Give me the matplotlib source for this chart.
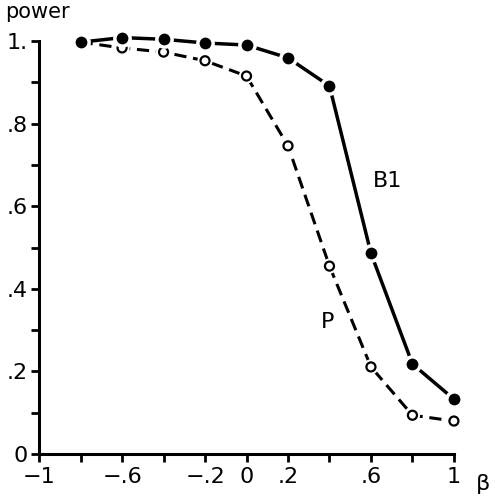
import matplotlib
matplotlib.use("Agg")
import matplotlib.pyplot as plt
import matplotlib.patheffects as pe

beta = [-0.8, -0.6, -0.4, -0.2, 0.0, 0.2, 0.4, 0.6, 0.8, 1.0]
power_B1 = [0.997, 1.008, 1.004, 0.995, 0.990, 0.959, 0.891, 0.486, 0.218, 0.133]
power_P = [0.997, 0.983, 0.973, 0.952, 0.915, 0.746, 0.455, 0.211, 0.094, 0.080]

xticks_major = [-1, -0.8, -0.6, -0.4, -0.2, 0, 0.2, 0.4, 0.6, 0.8, 1]
xtick_labels = ["\u22121", "", "\u2212.6", "", "\u2212.2", "0", ".2", "", ".6", "", "1"]
yticks_major = [0, 0.2, 0.4, 0.6, 0.8, 1.0]
ytick_labels = ["0", ".2", ".4", ".6", ".8", "1."]
yticks_minor = [0.1, 0.3, 0.5, 0.7, 0.9]

plt.rcParams['font.family'] = ['DejaVu Sans']
fig = plt.figure(figsize=(4.95, 4.99), dpi=100)
ax = fig.add_axes([0.079, 0.090, 0.838, 0.828])

ax.plot(beta, power_P, color='black', lw=2.2, ls=(0, (4.0, 2.2)), clip_on=False, zorder=2)
ax.plot(beta, power_P, ls='none', marker='o', ms=6.5, mfc='white', mec='black', mew=1.6,
        clip_on=False, zorder=3,
        path_effects=[pe.Stroke(linewidth=4.5, foreground='white'), pe.Normal()])
ax.plot(beta, power_B1, color='black', lw=2.5, ls='-', clip_on=False, zorder=4)
ax.plot(beta, power_B1, ls='none', marker='o', ms=11, mfc='black', mec='white', mew=2.5,
        clip_on=False, zorder=5)

ax.set_xlim(-1, 1)
ax.set_ylim(0, 1)
ax.set_xticks(xticks_major)
ax.set_xticklabels(xtick_labels, fontsize=16)
ax.set_yticks(yticks_major)
ax.set_yticklabels(ytick_labels, fontsize=16)
ax.set_yticks(yticks_minor, minor=True)
ax.tick_params(which='both', direction='out', length=6, width=2, pad=3)
ax.tick_params(axis='y', which='both', pad=2)
for s in ['top', 'right']:
    ax.spines[s].set_visible(False)
for s in ['left', 'bottom']:
    ax.spines[s].set_linewidth(2.2)

ax.text(0.68, 0.66, "B1", fontsize=16, ha='center', va='center')
ax.text(0.39, 0.32, "P", fontsize=16, ha='center', va='center')
fig.text(0.01, 0.955, "power", fontsize=15, ha='left', va='bottom')
fig.text(0.975, 0.03, "\u03b2", fontsize=16, ha='center', va='center')

fig.savefig("out.png", dpi=100)
